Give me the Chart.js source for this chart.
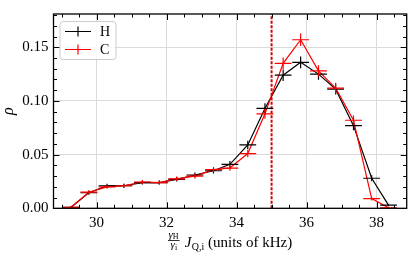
<!DOCTYPE html>
<html>
<head>
<meta charset="utf-8">
<script src="https://cdn.jsdelivr.net/npm/chart.js@4.4.0/dist/chart.umd.min.js"></script>
<style>
  html, body { margin: 0; padding: 0; background: #fff; }
  canvas { display: block; }
</style>
</head>
<body>
<canvas id="myChart" width="415" height="261"></canvas>
<script>
// bin centres (units of kHz) and half width of each bin
const binCentres = [29.27, 29.78, 30.30, 30.78, 31.31, 31.79, 32.29, 32.81, 33.34, 33.81, 34.32, 34.81, 35.33, 35.83, 36.34, 36.83, 37.34, 37.86, 38.34]
const binHalfWidth = 0.24

// H series
const rhoH = [0.001, 0.0145, 0.021, 0.021, 0.024, 0.024, 0.027, 0.031, 0.035, 0.041, 0.059, 0.093, 0.124, 0.136, 0.125, 0.111, 0.077, 0.028, 0.003]
const errH = [0.0010, 0.0018, 0.0018, 0.0018, 0.0019, 0.0019, 0.0021, 0.0023, 0.0025, 0.0030, 0.0040, 0.0048, 0.0053, 0.0055, 0.0053, 0.0050, 0.0042, 0.0027, 0.0010]

// C series
const rhoC = [0.001, 0.015, 0.020, 0.021, 0.0245, 0.024, 0.0275, 0.030, 0.036, 0.0375, 0.051, 0.088, 0.135, 0.157, 0.128, 0.112, 0.082, 0.009, 0.0005]
const errC = [0.0010, 0.0018, 0.0018, 0.0018, 0.0019, 0.0019, 0.0021, 0.0023, 0.0025, 0.0026, 0.0034, 0.0046, 0.0055, 0.0058, 0.0053, 0.0050, 0.0044, 0.0018, 0.0006]

const cutoff = 35.0
const xTicks = [30, 32, 34, 36, 38]
const yTicks = [0, 0.05, 0.10, 0.15]
const xRange = [28.77, 38.86]
const yRange = [0, 0.181]

const serif = '"Liberation Serif", "Times New Roman", serif'

const series = [
    { label: 'H', color: '#000000', vals: rhoH, err: errH },
    { label: 'C', color: '#ff0000', vals: rhoC, err: errC }
]

function toPoints(vals) {
    return binCentres.map((x, i) => ({ x: x, y: vals[i] }))
}

// inward ticks, frame, error bars, legend and axis titles
const decorations = {
    id: 'decorations',
    afterDatasetsDraw(chart) {
        const { ctx, chartArea: a, scales: { x, y } } = chart
        ctx.save()
        ctx.beginPath()
        ctx.rect(a.left, a.top, a.right - a.left, a.bottom - a.top)
        ctx.clip()
        ctx.lineWidth = 1.2
        series.forEach(s => {
            ctx.strokeStyle = s.color
            ctx.beginPath()
            binCentres.forEach((c, i) => {
                const py = y.getPixelForValue(s.vals[i])
                const px = x.getPixelForValue(c)
                ctx.moveTo(x.getPixelForValue(c - binHalfWidth), py)
                ctx.lineTo(x.getPixelForValue(c + binHalfWidth), py)
                ctx.moveTo(px, y.getPixelForValue(s.vals[i] - s.err[i]))
                ctx.lineTo(px, y.getPixelForValue(s.vals[i] + s.err[i]))
            })
            ctx.stroke()
        })
        ctx.restore()
    },
    afterDraw(chart) {
        const { ctx, chartArea: a, scales: { x, y } } = chart
        ctx.save()
        ctx.strokeStyle = '#000'
        ctx.lineWidth = 1

        // ticks on all four sides, pointing in
        const tick = (px, len, vertical) => {
            if (vertical) {
                ctx.moveTo(px, a.bottom); ctx.lineTo(px, a.bottom - len)
                ctx.moveTo(px, a.top); ctx.lineTo(px, a.top + len)
            } else {
                ctx.moveTo(a.left, px); ctx.lineTo(a.left + len, px)
                ctx.moveTo(a.right, px); ctx.lineTo(a.right - len, px)
            }
        }
        ctx.beginPath()
        for (let v = 29; v <= 38.5; v += 0.5) {
            const major = xTicks.includes(v)
            tick(Math.round(x.getPixelForValue(v)) + 0.5, major ? 6 : 3.5, true)
        }
        for (let k = 0; k <= 18; k++) {
            const v = k / 100
            const major = k % 5 == 0
            tick(Math.round(y.getPixelForValue(v)) + 0.5, major ? 6 : 3.5, false)
        }
        ctx.stroke()

        // frame
        ctx.lineWidth = 1.3
        ctx.strokeRect(a.left, a.top, a.right - a.left, a.bottom - a.top)

        // legend
        const lx = a.left + 6.5, ly = a.top + 7.5, lw = 56, lh = 38
        ctx.beginPath()
        ctx.roundRect(lx, ly, lw, lh, 3)
        ctx.fillStyle = 'rgba(255,255,255,0.8)'
        ctx.fill()
        ctx.strokeStyle = '#cccccc'
        ctx.lineWidth = 1
        ctx.stroke()
        series.forEach((s, i) => {
            const yy = ly + 10 + i * 18
            ctx.strokeStyle = s.color
            ctx.lineWidth = 1.2
            ctx.beginPath()
            ctx.moveTo(lx + 5, yy); ctx.lineTo(lx + 31, yy)
            ctx.moveTo(lx + 18, yy - 5); ctx.lineTo(lx + 18, yy + 5)
            ctx.stroke()
            ctx.fillStyle = '#000'
            ctx.font = '14px ' + serif
            ctx.textBaseline = 'middle'
            ctx.textAlign = 'left'
            ctx.fillText(s.label, lx + 40, yy + 0.5)
        })

        // y title
        ctx.save()
        ctx.translate(9, (a.top + a.bottom) / 2)
        ctx.rotate(-Math.PI / 2)
        ctx.font = 'italic 16px ' + serif
        ctx.textAlign = 'center'
        ctx.textBaseline = 'middle'
        ctx.fillStyle = '#000'
        ctx.fillText('ρ', 0, 0)
        ctx.restore()

        // x title: γH/γi J_Q,i (units of kHz)
        const base = 246.5
        const fracFont = 'italic 11px ' + serif
        const subFont = '8px ' + serif
        ctx.fillStyle = '#000'
        ctx.textBaseline = 'alphabetic'
        ctx.textAlign = 'left'
        ctx.font = fracFont
        const gw = ctx.measureText('γ').width
        ctx.font = subFont
        const hw = ctx.measureText('H').width
        const iw = ctx.measureText('i').width
        const fracW = gw + hw + 1.5
        ctx.font = 'italic 15px ' + serif
        const jw = ctx.measureText('J').width
        ctx.font = '10px ' + serif
        const qw = ctx.measureText('Q,i').width
        ctx.font = '15px ' + serif
        const rest = ' (units of kHz)'
        const rw = ctx.measureText(rest).width
        const total = fracW + 5 + jw + 0.5 + qw + rw
        let cx = (a.left + a.right) / 2 - total / 2

        const bar = base - 6
        ctx.lineWidth = 0.8
        ctx.strokeStyle = '#000'
        ctx.beginPath()
        ctx.moveTo(cx, bar); ctx.lineTo(cx + fracW, bar)
        ctx.stroke()
        ctx.font = fracFont
        ctx.fillText('γ', cx + 0.5, bar - 3)
        ctx.font = subFont
        ctx.fillText('H', cx + 0.5 + gw, bar - 1.5)
        const dx = cx + (fracW - gw - iw) / 2
        ctx.font = fracFont
        ctx.fillText('γ', dx, bar + 7.5)
        ctx.font = subFont
        ctx.fillText('i', dx + gw, bar + 9)
        cx += fracW + 5
        ctx.font = 'italic 15px ' + serif
        ctx.fillText('J', cx, base)
        cx += jw + 0.5
        ctx.font = '10px ' + serif
        ctx.fillText('Q,i', cx, base + 3)
        cx += qw
        ctx.font = '15px ' + serif
        ctx.fillText(rest, cx, base)
        ctx.restore()
    }
}

const chartData = {
    datasets: [{
        label: 'cutoff',
        data: [{ x: cutoff, y: yRange[0] }, { x: cutoff, y: yRange[1] }],
        borderColor: '#d40000',
        borderWidth: 2,
        borderDash: [3, 1.5],
        pointRadius: 0,
        order: 0
    }, {
        label: 'C',
        data: toPoints(rhoC),
        borderColor: '#ff0000',
        borderWidth: 1.2,
        pointRadius: 0,
        order: 1
    }, {
        label: 'H',
        data: toPoints(rhoH),
        borderColor: '#000000',
        borderWidth: 1.2,
        pointRadius: 0,
        order: 2
    }]
}

const config = {
    type: 'line',
    data: chartData,
    options: {
        responsive: false,
        animation: false,
        devicePixelRatio: 1,
        layout: { padding: { top: 7, right: 8.3, left: 0, bottom: 0 } },
        plugins: { legend: { display: false }, tooltip: { enabled: false } },
        elements: { line: { tension: 0 } },
        scales: {
            x: {
                type: 'linear',
                min: xRange[0],
                max: xRange[1],
                afterBuildTicks: s => { s.ticks = xTicks.map(v => ({ value: v })) },
                afterFit: s => { s.height = 52.7 },
                grid: { color: '#dadada', lineWidth: 1, drawTicks: false },
                border: { display: false },
                ticks: {
                    color: '#000',
                    padding: 6,
                    maxRotation: 0,
                    font: { family: serif, size: 15 },
                    callback: v => String(v)
                }
            },
            y: {
                type: 'linear',
                min: yRange[0],
                max: yRange[1],
                afterBuildTicks: s => { s.ticks = yTicks.map(v => ({ value: v })) },
                afterFit: s => { s.width = 53.5 },
                grid: { color: '#dadada', lineWidth: 1, drawTicks: false },
                border: { display: false },
                ticks: {
                    color: '#000',
                    padding: 5,
                    font: { family: serif, size: 15 },
                    callback: v => v.toFixed(2)
                }
            }
        }
    },
    plugins: [decorations]
}

const myChart = new Chart(document.getElementById('myChart'), config)
</script>
</body>
</html>
